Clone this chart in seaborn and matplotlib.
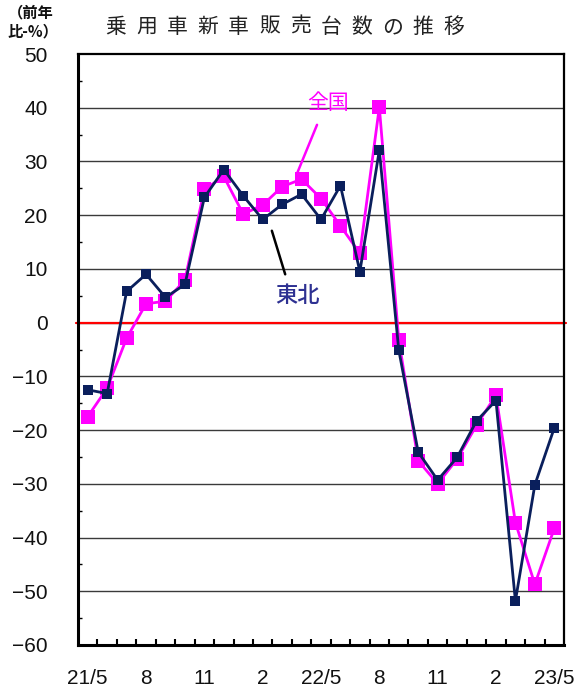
import matplotlib
matplotlib.use("Agg")
import matplotlib.pyplot as plt
import seaborn as sns
import pandas as pd
import numpy as np
from matplotlib.ticker import MultipleLocator, FixedLocator

months = ["21/5", "6", "7", "8", "9", "10", "11", "12", "1", "2", "3", "4",
          "22/5", "6", "7", "8", "9", "10", "11", "12", "1", "2", "3", "4", "23/5"]
zenkoku = [-17.5, -12.2, -2.9, 3.5, 4.0, 7.9, 24.8, 27.2, 20.2, 21.9, 25.3, 26.7,
           23.1, 18.0, 12.9, 40.1, -3.2, -25.7, -30.0, -25.4, -19.1, -13.5, -37.2, -48.7, -38.3]
tohoku = [-12.5, -13.2, 5.8, 9.0, 4.7, 7.1, 23.3, 28.5, 23.6, 19.2, 22.0, 23.9,
          19.2, 25.5, 9.5, 32.1, -5.1, -24.1, -29.3, -25.1, -18.3, -14.5, -51.8, -30.2, -19.6]
shown_labels = {"21/5", "8", "11", "2", "22/5", "23/5"}
title = "乗用車新車販売台数の推移"

df = pd.DataFrame({"idx": np.arange(len(months)), "全国": zenkoku, "東北": tohoku})

sns.set_theme(style="white")
plt.rcParams['font.family'] = ['Liberation Sans', 'Noto Sans CJK JP', 'DejaVu Sans']

fig = plt.figure(figsize=(5.87, 6.97), dpi=100)
ax = fig.add_axes([78/587, 1-645/697, (564-78)/587, (645-54)/697])

for y in range(-50, 50, 10):
    ax.axhline(y, color="#3a3a3a", lw=1.0, zorder=1)
ax.axhline(0, color="red", lw=1.6, xmin=-0.004, xmax=1.004, clip_on=False, zorder=2)

sns.lineplot(data=df, x="idx", y="全国", ax=ax, color="#FF00FF", lw=2.0,
             marker="s", markersize=10, markeredgewidth=0, zorder=3)
sns.lineplot(data=df, x="idx", y="東北", ax=ax, color="#0A1F5C", lw=2.0,
             marker="s", markersize=6.5, markeredgewidth=0, zorder=4)

ax.set_xlim(-0.5, len(months) - 0.5)
ax.set_ylim(-60, 50)
ax.yaxis.set_major_locator(MultipleLocator(10))
ax.yaxis.set_minor_locator(MultipleLocator(5))
ax.set_xticks(np.arange(len(months)))
ax.set_xticklabels([m if m in shown_labels else "" for m in months])
ax.xaxis.set_minor_locator(FixedLocator(np.arange(0.5, len(months) - 1, 1.0)))
ax.tick_params(axis="x", which="major", length=0, pad=17, labelsize=15, colors="#111111")
ax.tick_params(axis="x", which="minor", direction="in", length=4, width=1.5, bottom=True, color="black")
ax.tick_params(axis="y", which="major", length=0, pad=22, labelsize=15, colors="#111111")
ax.tick_params(axis="y", which="minor", direction="in", length=3, width=1, left=True, color="black")
ax.set_xlabel("")
ax.set_ylabel("")
for side, lw in [("left", 2.2), ("bottom", 2.2), ("top", 1.6), ("right", 1.6)]:
    ax.spines[side].set_visible(True)
    ax.spines[side].set_color("black")
    ax.spines[side].set_linewidth(lw)

# annotations
ax.text(12.36, 40.9, "全国", color="#FF00FF", fontsize=15, ha="center", va="center",
        family=["Noto Sans CJK JP"], zorder=5)
ax.annotate("", xy=(10.67, 26.9), xytext=(11.85, 37.3),
            arrowprops=dict(arrowstyle="-", color="#FF00FF", lw=1.8), zorder=5)
ax.text(10.77, 5.1, "東北", color="#2E3192", fontsize=16, ha="center", va="center",
        family=["Noto Sans CJK JP"], fontweight="medium", zorder=5)
ax.annotate("", xy=(10.2, 8.5), xytext=(9.43, 17.6),
            arrowprops=dict(arrowstyle="-", color="black", lw=1.8), zorder=5)

# title with wide letter spacing
x0, dx = 116, 30.7
for i, ch in enumerate(title):
    fig.text((x0 + i * dx) / 587, 1 - 27 / 697, ch, ha="center", va="center",
             fontsize=15, color="#222222", family=["Noto Sans CJK JP"])

fig.text(31 / 587, 1 - 12 / 697, "（前年", ha="center", va="center", fontsize=11,
         fontweight="bold", family=["Noto Sans CJK JP"], color="#111111")
fig.text(33 / 587, 1 - 31 / 697, "比-%）", ha="center", va="center", fontsize=11,
         fontweight="bold", family=["Noto Sans CJK JP"], color="#111111")

fig.savefig("out.png", dpi=100)
